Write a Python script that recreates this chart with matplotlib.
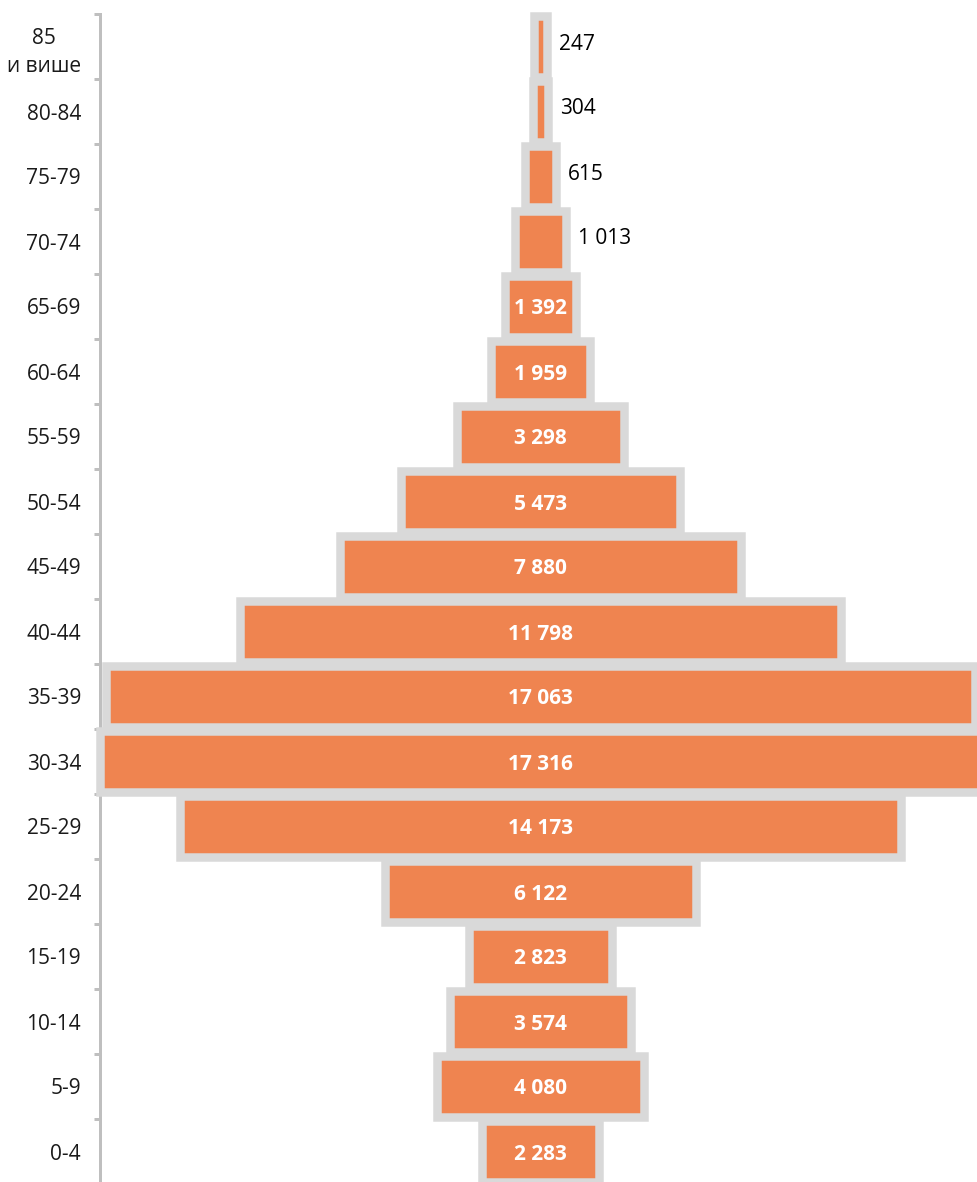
import matplotlib
matplotlib.use("Agg")
import matplotlib.pyplot as plt
from matplotlib.ticker import FixedLocator

categories = ["0-4", "5-9", "10-14", "15-19", "20-24", "25-29", "30-34", "35-39",
              "40-44", "45-49", "50-54", "55-59", "60-64", "65-69", "70-74",
              "75-79", "80-84", "85\nи више"]
values = [2283, 4080, 3574, 2823, 6122, 14173, 17316, 17063,
          11798, 7880, 5473, 3298, 1959, 1392, 1013, 615, 304, 247]
labels = ["2 283", "4 080", "3 574", "2 823", "6 122", "14 173", "17 316", "17 063",
          "11 798", "7 880", "5 473", "3 298", "1 959", "1 392", "1 013", "615", "304", "247"]
outside_threshold = 1100

DPI = 100
W, H = 978, 1182
fig = plt.figure(figsize=(W / DPI, H / DPI), dpi=DPI)
ax = fig.add_axes([100 / W, -2 / H, 881 / W, 1170 / H])

orange = "#EF8450"
gray = "#D9D9D9"
axis_gray = "#BFBFBF"

ypos = list(range(len(categories)))
lefts = [-v / 2 for v in values]
edge_lw = 8.5 * 72 / DPI
ax.barh(ypos, values, left=lefts, height=0.94, color=orange,
        edgecolor=gray, linewidth=edge_lw, clip_on=False, zorder=2)

maxv = max(values)
ax.set_xlim(-maxv / 2, maxv / 2)
ax.set_ylim(-0.5, len(categories) - 0.5)

pt = 72 / DPI
for y, v, lab in zip(ypos, values, labels):
    if v < outside_threshold:
        ax.annotate(lab, xy=(v / 2, y), xytext=(12 * pt, -3 * pt),
                    textcoords="offset points", ha="left", va="baseline",
                    fontsize=15, family="Open Sans", color="black", zorder=3,
                    annotation_clip=False)
    else:
        ax.annotate(lab, xy=(0, y), xytext=(0, -8 * pt),
                    textcoords="offset points", ha="center", va="baseline",
                    fontsize=15, family="Open Sans", fontweight="bold",
                    color="white", zorder=3)

for s in ["top", "right", "bottom"]:
    ax.spines[s].set_visible(False)
ax.spines["left"].set_color(axis_gray)
ax.spines["left"].set_linewidth(3 * pt)
ax.spines["left"].set_zorder(1)

ax.set_xticks([])
ax.set_yticks(ypos)
ax.set_yticklabels(categories, fontsize=15, family="Open Sans", color="#1a1a1a",
                   multialignment="center", linespacing=1.45)
ax.tick_params(axis="y", which="major", length=0, pad=19 * pt)
ax.yaxis.set_minor_locator(FixedLocator([i + 0.5 for i in range(-1, len(categories))]))
ax.tick_params(axis="y", which="minor", length=6 * pt, width=3 * pt,
               color=axis_gray, direction="out")

fig.savefig("out.png", dpi=DPI)
